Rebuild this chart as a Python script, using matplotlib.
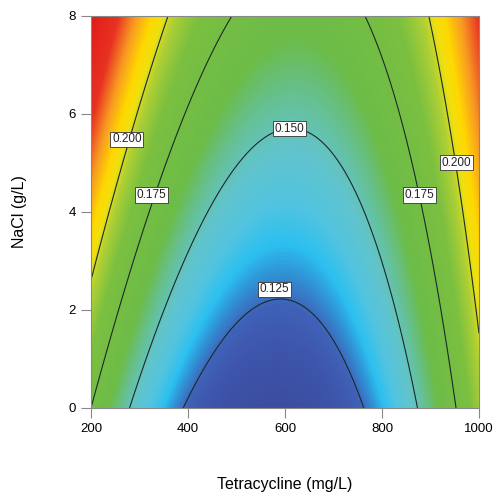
import numpy as np
import matplotlib
matplotlib.use("Agg")
import matplotlib.pyplot as plt
from matplotlib.colors import LinearSegmentedColormap

plt.rcParams['font.family'] = ['Liberation Sans', 'DejaVu Sans']

# quadratic response-surface model (coded factors A, B in [-1, 1])
b0 = 0.1378
bA = -0.00074
bB = 0.02875
bAB = -0.0096
bAA = 0.0748
bBB = 0.0

x_range = [200, 1000]   # Tetracycline (mg/L)
y_range = [0, 8]        # NaCl (g/L)
x_ticks = [200, 400, 600, 800, 1000]
y_ticks = [0, 2, 4, 6, 8]
levels = [0.125, 0.150, 0.175, 0.200]
# where each contour label sits (value, x, y)
label_pos = [(0.200, 274, 5.48), (0.175, 325, 4.35), (0.150, 609, 5.70),
             (0.125, 578, 2.42), (0.175, 878, 4.35), (0.200, 954, 5.01)]

# colour ramp of the surface, anchored on response values
ramp_vals = [0.105, 0.118, 0.124, 0.129, 0.133, 0.139, 0.147, 0.155, 0.163,
             0.186, 0.197, 0.203, 0.209, 0.219, 0.231, 0.255]
ramp_cols = ['#3a4a9c', '#3e56ac', '#3f62b8', '#2f96d8', '#2cc0f0', '#52c4e0',
             '#62c4cc', '#66c090', '#6cbc48', '#7cc040', '#b0d034', '#f0e010',
             '#ffd800', '#f89a22', '#e83222', '#e01818']

vmin, vmax = ramp_vals[0], ramp_vals[-1]
cmap = LinearSegmentedColormap.from_list(
    'rsm', [((v - vmin) / (vmax - vmin), c) for v, c in zip(ramp_vals, ramp_cols)])

x = np.linspace(x_range[0], x_range[1], 400)
y = np.linspace(y_range[0], y_range[1], 400)
X, Y = np.meshgrid(x, y)
A = (X - 600) / 400
B = (Y - 4) / 4
Z = b0 + bA*A + bB*B + bAB*A*B + bAA*A**2 + bBB*B**2

fig = plt.figure(figsize=(4.96, 4.99), dpi=100)
ax = fig.add_axes([91/496, 1 - 408/499, 388/496, 392/499])

ax.imshow(Z, origin='lower', extent=[x_range[0], x_range[1], y_range[0], y_range[1]],
          aspect='auto', cmap=cmap, vmin=vmin, vmax=vmax, interpolation='bilinear')
cs = ax.contour(X, Y, Z, levels=levels, colors='#1b2a28', linewidths=0.8)

for val, lx, ly in label_pos:
    ax.text(lx, ly, '%.3f' % val, fontsize=8.5, color='#222222', ha='center',
            va='center', zorder=5,
            bbox=dict(facecolor='white', edgecolor='#333333', linewidth=0.6,
                      pad=1.3))

ax.set_xlim(x_range)
ax.set_ylim(y_range)
ax.set_xticks(x_ticks)
ax.set_yticks(y_ticks)
ax.tick_params(direction='out', length=7, width=0.8, color='#888888', labelsize=9.5,
               pad=4)
for s in ax.spines.values():
    s.set_color('#888888')
    s.set_linewidth(0.8)

ax.set_xlabel('Tetracycline (mg/L)', fontsize=11.5, labelpad=30)
ax.set_ylabel('NaCl (g/L)', fontsize=11.5, labelpad=30)

fig.savefig('out.png', dpi=100)
